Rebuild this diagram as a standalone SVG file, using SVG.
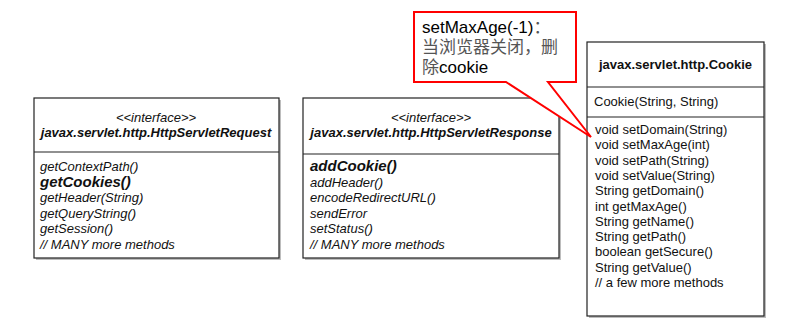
<svg xmlns="http://www.w3.org/2000/svg" width="797" height="325" viewBox="0 0 797 325">
  <style>
    .box { fill: #ffffff; stroke: #222222; stroke-width: 1.2; }
    .shadow { fill: #bdbdbd; }
    .sep { stroke: #222222; stroke-width: 1.2; }
    text { font-family: "Liberation Sans", Arial, sans-serif; font-size: 13px; fill: #111111; }
    .it { font-style: italic; }
    .bi { font-style: italic; font-weight: bold; }
    .big { font-size: 15px; }
    .b { font-weight: bold; }
    .mid { text-anchor: middle; }
    .callout { fill: #ffffff; stroke: #ff0000; stroke-width: 2; stroke-linejoin: miter; }
    .note { font-size: 17px; fill: #000000; }
    .cjk { font-family: "Liberation Sans", "Noto Sans CJK SC", sans-serif; fill: #555555; }
  </style>
  <rect width="797" height="325" fill="#ffffff"/>

  <!-- HttpServletRequest interface -->
  <g id="request">
    <rect class="shadow" x="36" y="100" width="245" height="160"/>
    <rect class="box" x="34" y="98" width="245" height="160"/>
    <line class="sep" x1="34" y1="152" x2="279" y2="152"/>
    <text class="it mid" x="156" y="122">&lt;&lt;interface&gt;&gt;</text>
    <text class="bi mid" x="156" y="137">javax.servlet.http.HttpServletRequest</text>
    <text class="it" x="40" y="171">getContextPath()</text>
    <text class="bi big" x="40" y="186.5">getCookies()</text>
    <text class="it" x="40" y="202">getHeader(String)</text>
    <text class="it" x="40" y="217.5">getQueryString()</text>
    <text class="it" x="40" y="233">getSession()</text>
    <text class="it" x="40" y="248.5">// MANY more methods</text>
  </g>

  <!-- HttpServletResponse interface -->
  <g id="response">
    <rect class="shadow" x="305" y="100" width="256" height="160"/>
    <rect class="box" x="303" y="98" width="256" height="160"/>
    <line class="sep" x1="303" y1="154" x2="559" y2="154"/>
    <text class="it mid" x="431" y="122">&lt;&lt;interface&gt;&gt;</text>
    <text class="bi mid" x="431" y="137">javax.servlet.http.HttpServletResponse</text>
    <text class="bi big" x="310" y="171">addCookie()</text>
    <text class="it" x="310" y="186.5">addHeader()</text>
    <text class="it" x="310" y="202">encodeRedirectURL()</text>
    <text class="it" x="310" y="217.5">sendError</text>
    <text class="it" x="310" y="233">setStatus()</text>
    <text class="it" x="310" y="248.5">// MANY more methods</text>
  </g>

  <!-- Cookie class -->
  <g id="cookie">
    <rect class="shadow" x="589" y="44" width="177" height="274"/>
    <rect class="box" x="587" y="42" width="177" height="274"/>
    <line class="sep" x1="587" y1="87" x2="764" y2="87"/>
    <line class="sep" x1="587" y1="117" x2="764" y2="117"/>
    <text class="b mid" x="675.5" y="69">javax.servlet.http.Cookie</text>
    <text x="594" y="106">Cookie(String, String)</text>
    <text x="595" y="134">void setDomain(String)</text>
    <text x="595" y="149.3">void setMaxAge(int)</text>
    <text x="595" y="164.6">void setPath(String)</text>
    <text x="595" y="179.9">void setValue(String)</text>
    <text x="595" y="195.2">String getDomain()</text>
    <text x="595" y="210.5">int getMaxAge()</text>
    <text x="595" y="225.8">String getName()</text>
    <text x="595" y="241.1">String getPath()</text>
    <text x="595" y="256.4">boolean getSecure()</text>
    <text x="595" y="271.7">String getValue()</text>
    <text x="595" y="287">// a few more methods</text>
  </g>

  <!-- Note callout pointing at setMaxAge -->
  <g id="note">
    <path class="callout" d="M414,12 H576 V82 H548 L591,137 L506,82 H414 Z"/>
    <text class="note" x="422" y="33">setMaxAge(-1)<tspan class="cjk">：</tspan></text>
    <text class="note cjk" x="422" y="53">当浏览器关闭，删</text>
    <text class="note" x="422" y="73"><tspan class="cjk">除</tspan>cookie</text>
  </g>

  <g id="connectors"></g>
</svg>
